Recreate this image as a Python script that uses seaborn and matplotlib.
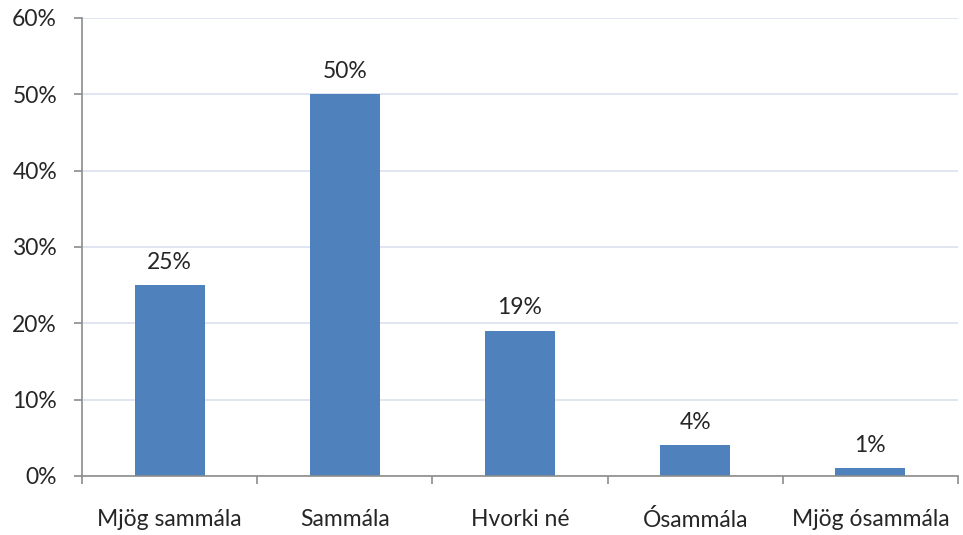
import seaborn as sns
import pandas as pd
import matplotlib.pyplot as plt
from matplotlib.ticker import PercentFormatter, FixedLocator

categories = ['Mjög sammála', 'Sammála', 'Hvorki né', 'Ósammála', 'Mjög ósammála']
values = [25, 50, 19, 4, 1]

df = pd.DataFrame({'svar': categories, 'hlutfall': values})

sns.set_style('white')
plt.rcParams['font.family'] = ['Lato', 'DejaVu Sans']

fig = plt.figure(figsize=(9.63, 5.35), dpi=100)
ax = fig.add_axes([0.0852, 0.1103, 0.9096, 0.8561])

sns.barplot(data=df, x='svar', y='hlutfall', color='#4F81BD', saturation=1,
            width=0.4, linewidth=0, ax=ax)

ax.set_ylim(0, 60)
ax.set_xlim(-0.5, 4.5)
ax.set_yticks(range(0, 61, 10))
ax.yaxis.set_major_formatter(PercentFormatter(decimals=0))
ax.grid(axis='y', color='#D9E1F0', linewidth=1.2)
ax.set_axisbelow(True)

ax.xaxis.set_minor_locator(FixedLocator([-0.5, 0.5, 1.5, 2.5, 3.5, 4.5]))
ax.tick_params(axis='x', which='major', length=0, pad=24, labelsize=16.5)
ax.tick_params(axis='x', which='minor', length=6, width=1.2, color='#8C8C8C', direction='out', bottom=True)
ax.tick_params(axis='y', length=6, width=1.2, color='#8C8C8C', direction='out', left=True, pad=12, labelsize=16.5)

for s in ['top', 'right']:
    ax.spines[s].set_visible(False)
for s in ['left', 'bottom']:
    ax.spines[s].set_color('#8C8C8C')
    ax.spines[s].set_linewidth(1.2)

ax.bar_label(ax.containers[0], labels=[f'{v}%' for v in values], padding=9, fontsize=16.5)

ax.set_xlabel('')
ax.set_ylabel('')

fig.savefig('out.png', dpi=100)
